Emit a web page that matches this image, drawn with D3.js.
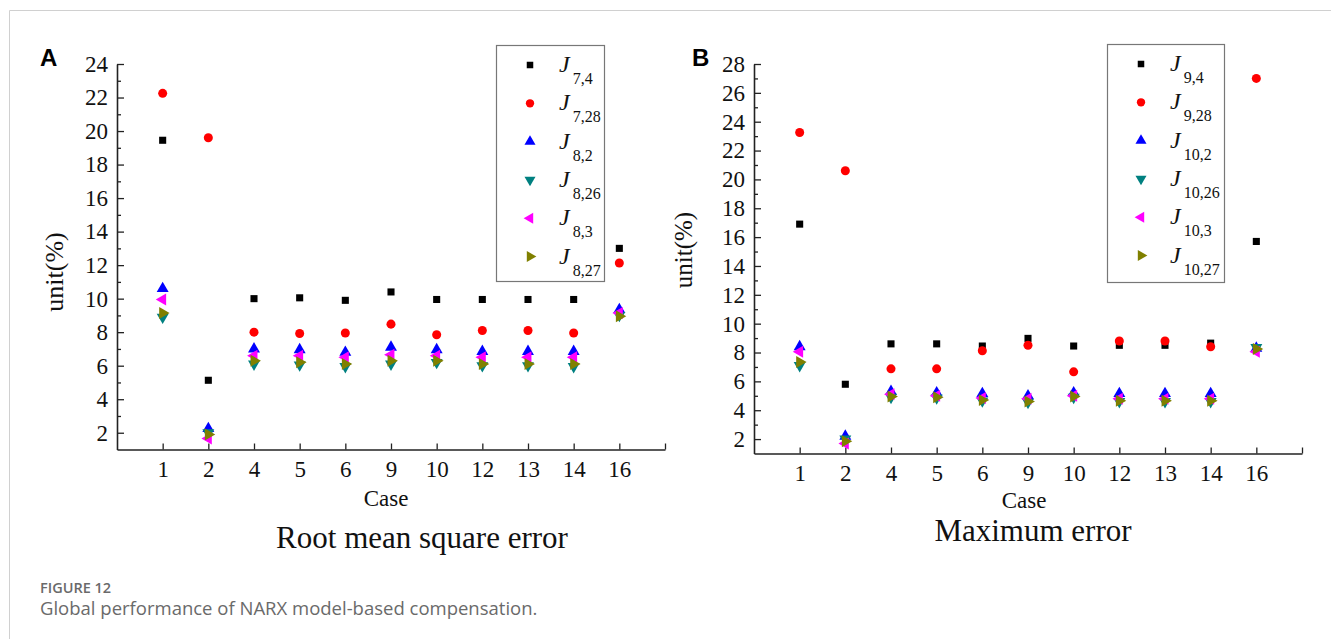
<!DOCTYPE html>
<html>
<head>
<meta charset="utf-8">
<script src="https://cdn.jsdelivr.net/npm/d3@7"></script>
<style>
  body { margin: 0; background: #fff; }
  svg { display: block; }
</style>
</head>
<body>
<svg id="fig"></svg>
<script>
// cases on the x axis (same for both panels)
const cases = ["1", "2", "4", "5", "6", "9", "10", "12", "13", "14", "16"];

// panel A: root mean square error (%)
const rmseJ7_4  = [19.45, 5.13, 10.0, 10.05, 9.9, 10.4, 9.95, 9.95, 9.95, 9.95, 13.0];
const rmseJ7_28 = [22.25, 19.6, 8.0, 7.92, 7.95, 8.48, 7.85, 8.1, 8.1, 7.95, 12.13];
const rmseJ8_2  = [10.6, 2.25, 7.0, 6.95, 6.8, 7.1, 6.95, 6.85, 6.85, 6.85, 9.35];
const rmseJ8_26 = [8.9, 2.0, 6.1, 6.05, 5.95, 6.1, 6.2, 6.0, 6.0, 5.95, 9.0];
const rmseJ8_3  = [9.95, 1.65, 6.6, 6.6, 6.5, 6.65, 6.6, 6.5, 6.5, 6.5, 9.15];
const rmseJ8_27 = [9.15, 1.9, 6.3, 6.2, 6.1, 6.3, 6.3, 6.1, 6.1, 6.1, 8.95];

// panel B: maximum error (%)
const maxJ9_4   = [16.9, 5.8, 8.6, 8.6, 8.45, 8.98, 8.45, 8.5, 8.5, 8.65, 15.7];
const maxJ9_28  = [23.25, 20.6, 6.87, 6.87, 8.12, 8.5, 6.66, 8.8, 8.8, 8.4, 27.0];
const maxJ10_2  = [8.4, 2.2, 5.3, 5.2, 5.15, 5.0, 5.2, 5.15, 5.15, 5.15, 8.3];
const maxJ10_26 = [7.1, 2.0, 4.9, 4.85, 4.65, 4.55, 4.9, 4.6, 4.6, 4.6, 8.35];
const maxJ10_3  = [8.05, 1.7, 5.1, 5.0, 4.85, 4.8, 5.0, 4.8, 4.8, 4.8, 8.05];
const maxJ10_27 = [7.35, 1.85, 4.95, 4.9, 4.7, 4.6, 4.95, 4.65, 4.65, 4.65, 8.25];

const seriesStyle = [
  { color: "#000000", shape: "square" },
  { color: "#ff0000", shape: "circle" },
  { color: "#0000ff", shape: "up" },
  { color: "#008080", shape: "down" },
  { color: "#ff00ff", shape: "left" },
  { color: "#808000", shape: "right" }
];

const panels = [
  {
    letter: "A", letterX: 40, title: "Root mean square error",
    yMax: 24, x0: 117, x1: 665, yTop: 64, yBottom: 449.5,
    legend: { x: 496, y: 45, w: 108, h: 236 },
    names: [["7", "4"], ["7", "28"], ["8", "2"], ["8", "26"], ["8", "3"], ["8", "27"]],
    values: [rmseJ7_4, rmseJ7_28, rmseJ8_2, rmseJ8_26, rmseJ8_3, rmseJ8_27],
    titleX: 422, titleY: 548, caseX: 386, caseY: 506, unitX: 54, unitY: 272, unitSize: 26
  },
  {
    letter: "B", letterX: 692, title: "Maximum error",
    yMax: 28, x0: 754, x1: 1302, yTop: 64, yBottom: 453.5,
    legend: { x: 1107, y: 44, w: 117, h: 238 },
    names: [["9", "4"], ["9", "28"], ["10", "2"], ["10", "26"], ["10", "3"], ["10", "27"]],
    values: [maxJ9_4, maxJ9_28, maxJ10_2, maxJ10_26, maxJ10_3, maxJ10_27],
    titleX: 1033, titleY: 541, caseX: 1024, caseY: 508, unitX: 683, unitY: 250, unitSize: 25
  }
];

const W = 1331, H = 639;
const svg = d3.select("#fig").attr("width", W).attr("height", H);
const serif = "'Liberation Serif', 'Times New Roman', serif";

// thin frame round the figure
svg.append("path")
  .attr("d", `M9.5,${H} V10.5 H${W}`)
  .attr("fill", "none")
  .attr("stroke", "#d0d0d0");

function symbolPath(shape, size) {
  if (shape === "square") return d3.symbol(d3.symbolSquare, size)();
  if (shape === "circle") return d3.symbol(d3.symbolCircle, size)();
  return d3.symbol(d3.symbolTriangle, size)();
}
function symbolRotate(shape) {
  return { up: 0, down: 180, left: -90, right: 90 }[shape] || 0;
}
const sizeOf = { square: 50, circle: 64, up: 62, down: 62, left: 62, right: 62 };

panels.forEach((p) => {
  let g = svg.append("g");

  let x = d3.scaleLinear().domain([-1, 11]).range([p.x0, p.x1]);
  let y = d3.scaleLinear().domain([1, p.yMax]).range([p.yBottom, p.yTop]);

  // minor y ticks (odd values)
  let minor = d3.range(3, p.yMax, 2);
  g.append("g")
    .attr("transform", `translate(${p.x0},0)`)
    .call(d3.axisLeft(y).tickValues(minor).tickSizeInner(-4).tickSizeOuter(0).tickFormat(""))
    .call((a) => a.select(".domain").remove())
    .call((a) => a.selectAll("line").attr("stroke", "#222").attr("stroke-width", 1.3));

  // major y axis
  let yAxis = g.append("g")
    .attr("transform", `translate(${p.x0},0)`)
    .call(d3.axisLeft(y).tickValues(d3.range(2, p.yMax + 1, 2))
      .tickSizeInner(-7).tickSizeOuter(0).tickPadding(9));
  yAxis.select(".domain").attr("stroke", "#222").attr("stroke-width", 1.6);
  yAxis.selectAll("line").attr("stroke", "#222").attr("stroke-width", 1.3);
  yAxis.selectAll("text")
    .attr("font-family", serif).attr("font-size", 23).attr("fill", "#111");

  // x axis
  let xAxis = g.append("g")
    .attr("transform", `translate(0,${p.yBottom})`)
    .call(d3.axisBottom(x).tickValues(d3.range(0, 12))
      .tickSizeInner(-6).tickSizeOuter(0).tickPadding(11)
      .tickFormat((i) => cases[i] || ""));
  xAxis.select(".domain").attr("stroke", "#222").attr("stroke-width", 1.6);
  xAxis.selectAll("line").attr("stroke", "#222").attr("stroke-width", 1.3);
  xAxis.selectAll("text")
    .attr("font-family", serif).attr("font-size", 23).attr("fill", "#111");

  // points, series by series
  p.values.forEach((vals, si) => {
    let st = seriesStyle[si];
    g.append("g").selectAll("path")
      .data(vals)
      .enter()
      .append("path")
      .attr("d", symbolPath(st.shape, sizeOf[st.shape]))
      .attr("transform", (d, i) => `translate(${x(i)},${y(d)}) rotate(${symbolRotate(st.shape)})`)
      .attr("fill", st.color);
  });

  // legend
  let lg = g.append("g").attr("transform", `translate(${p.legend.x},${p.legend.y})`);
  lg.append("rect")
    .attr("x", 0.5).attr("y", 0.5)
    .attr("width", p.legend.w).attr("height", p.legend.h)
    .attr("fill", "#fff").attr("stroke", "#777").attr("stroke-width", 1.2);
  p.names.forEach((nm, si) => {
    let st = seriesStyle[si];
    let ry = 20 + si * 38.3;
    lg.append("path")
      .attr("d", symbolPath(st.shape, sizeOf[st.shape] * 0.85))
      .attr("transform", `translate(34,${ry}) rotate(${symbolRotate(st.shape)})`)
      .attr("fill", st.color);
    let t = lg.append("text")
      .attr("x", 63).attr("y", ry + 7)
      .attr("font-family", serif).attr("fill", "#111");
    t.append("tspan").attr("font-size", 24).attr("font-style", "italic").text("J");
    t.append("tspan").attr("font-size", 16).attr("dx", 3).attr("dy", 12)
      .text(nm[0] + "," + nm[1]);
  });

  // axis titles
  g.append("text")
    .attr("x", p.caseX).attr("y", p.caseY)
    .attr("text-anchor", "middle")
    .attr("font-family", serif).attr("font-size", 23).attr("fill", "#111")
    .text("Case");
  g.append("text")
    .attr("transform", `translate(${p.unitX},${p.unitY}) rotate(-90)`)
    .attr("text-anchor", "middle").attr("dy", "0.35em")
    .attr("font-family", serif).attr("font-size", p.unitSize).attr("fill", "#111")
    .text("unit(%)");
  g.append("text")
    .attr("x", p.titleX).attr("y", p.titleY)
    .attr("text-anchor", "middle")
    .attr("font-family", serif).attr("font-size", 31).attr("fill", "#111")
    .text(p.title);

  // panel letter
  g.append("text")
    .attr("x", p.letterX).attr("y", 66)
    .attr("font-family", "'Liberation Sans', Arial, sans-serif")
    .attr("font-weight", "bold").attr("font-size", 24).attr("fill", "#000")
    .text(p.letter);
});

// figure caption
svg.append("text")
  .attr("x", 40).attr("y", 593)
  .attr("font-family", "'Open Sans', 'Noto Sans', sans-serif")
  .attr("font-size", 14.5).attr("font-weight", 600).attr("fill", "#6a6a6a")
  .text("FIGURE 12");
svg.append("text")
  .attr("x", 40).attr("y", 615)
  .attr("font-family", "'Open Sans', 'Noto Sans', sans-serif")
  .attr("font-size", 18.5).attr("fill", "#6a6a6a")
  .text("Global performance of NARX model-based compensation.");
</script>
</body>
</html>
